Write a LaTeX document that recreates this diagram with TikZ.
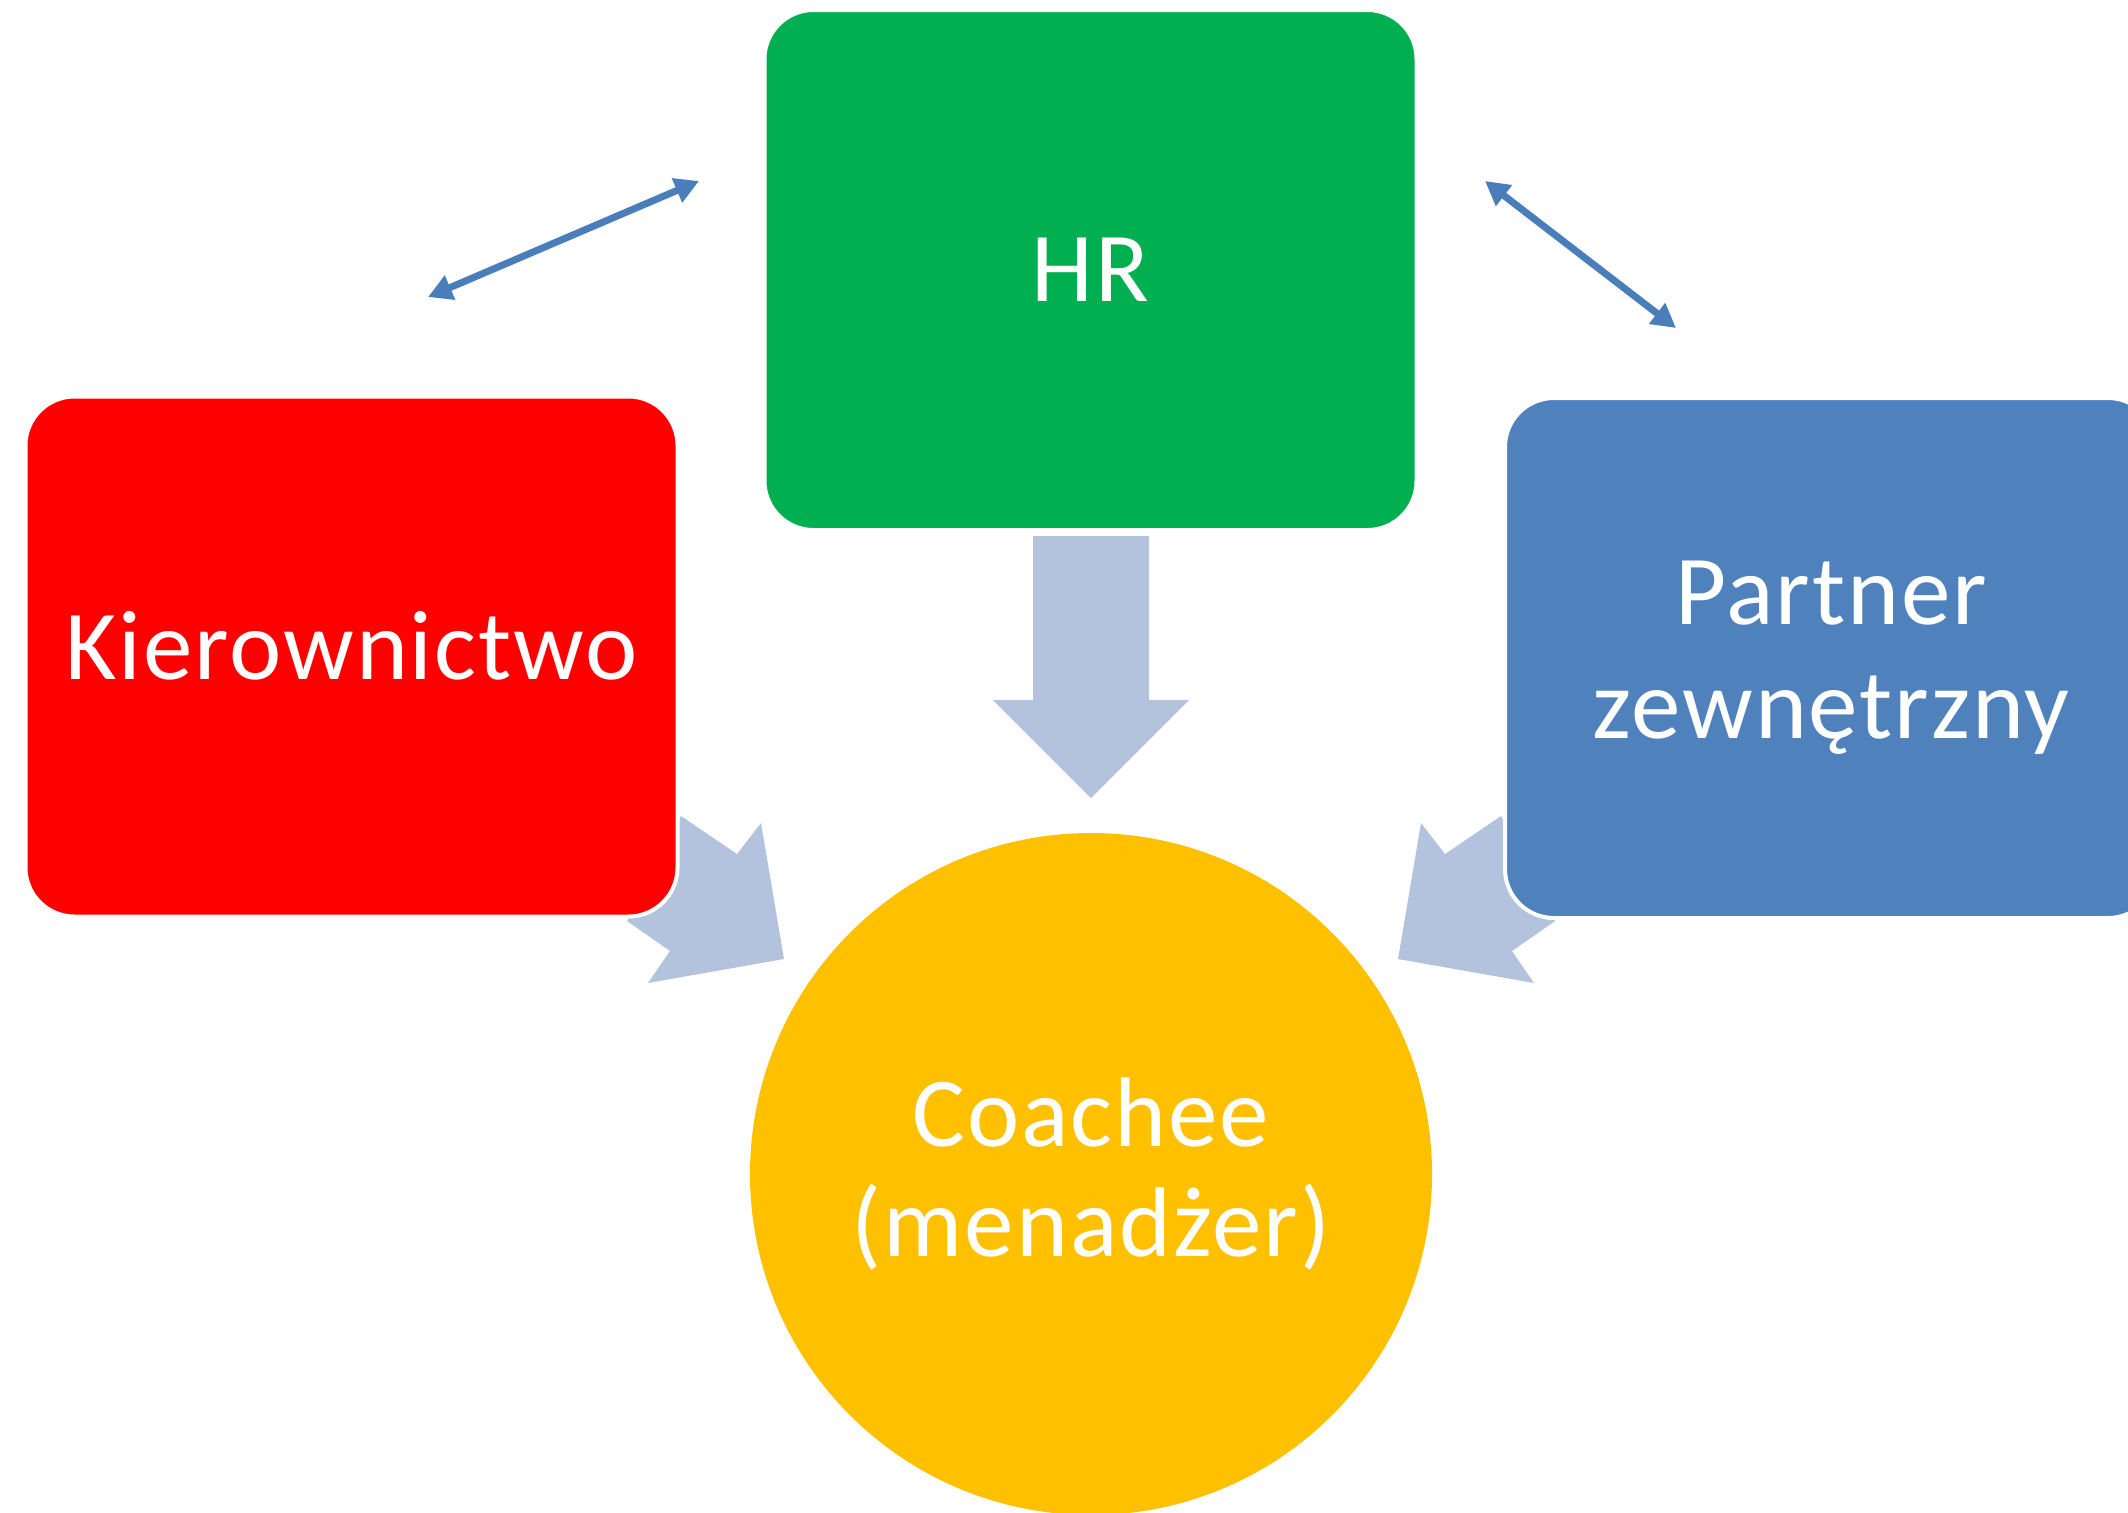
\documentclass[tikz,border=0pt]{standalone}
\usepackage{fontspec}
\setmainfont[LetterSpace=2]{Carlito}
\usetikzlibrary{arrows.meta}
\definecolor{hrgreen}{HTML}{00B050}
\definecolor{kred}{HTML}{FF0000}
\definecolor{pblue}{HTML}{4F81BD}
\definecolor{cgold}{HTML}{FFC000}
\definecolor{lightarrow}{HTML}{B3C3DD}
\definecolor{linkblue}{HTML}{4A7EBB}
\begin{document}
\begin{tikzpicture}[x=0.5pt,y=-0.5pt,
  box/.style={rectangle, rounded corners=24.5pt, draw=white, line width=2pt,
    minimum width=326pt, minimum height=260pt, inner sep=0pt,
    text=white, font=\fontsize{49.5}{57}\selectfont, align=center},
  ring/.style={circle, minimum size=341pt, inner sep=0pt, fill=cgold,
    text=white, font=\fontsize{49.5}{55}\selectfont, align=center},
  blockarrow/.style={fill=lightarrow},
  link/.style={draw=linkblue, line width=3.5pt,
    {Triangle[length=12pt,width=12.5pt]}-{Triangle[length=12pt,width=12.5pt]}}
]
\useasboundingbox (0,0) rectangle (2128,1512);

% HR box
\node[box, fill=hrgreen] (hr) at (1090.5,270) {HR};

% down block arrow from HR
\fill[blockarrow] (1033,536) -- (1149,536) -- (1149,700) -- (1189,700)
  -- (1091,798) -- (993,700) -- (1033,700) -- cycle;

% left block arrow
\coordinate (la1) at (681,816);
\coordinate (la2) at (737,854);
\coordinate (la3) at (761,823);
\coordinate (la4) at (784,959);
\coordinate (la5) at (648,983);
\coordinate (la6) at (670,951);
\coordinate (la7) at (627,921);
\fill[blockarrow] (la1) -- (la2) -- (la3) -- (la4) -- (la5) -- (la6) -- (la7) -- cycle;

% right block arrow
\coordinate (ra1) at (1501,816);
\coordinate (ra2) at (1445,854);
\coordinate (ra3) at (1421,823);
\coordinate (ra4) at (1398,959);
\coordinate (ra5) at (1534,983);
\coordinate (ra6) at (1512,951);
\coordinate (ra7) at (1555,921);
\fill[blockarrow] (ra1) -- (ra2) -- (ra3) -- (ra4) -- (ra5) -- (ra6) -- (ra7) -- cycle;

% side boxes
\node[box, fill=kred] (kier) at (351.5,656.5) {\strut Kierownictwo};
\node[box, fill=pblue] (partner) at (1831,658) {Partner\\zewnętrzny};

% circle
\node[ring] (coachee) at (1091,1174) {Coachee\\(menadżer)};

% double arrows
\coordinate (l1) at (428,297);
\coordinate (l2) at (699,181);
\coordinate (r1) at (1485,181);
\coordinate (r2) at (1676,328);
\draw[link] (l1) -- (l2);
\draw[link] (r1) -- (r2);
\end{tikzpicture}
\end{document}
